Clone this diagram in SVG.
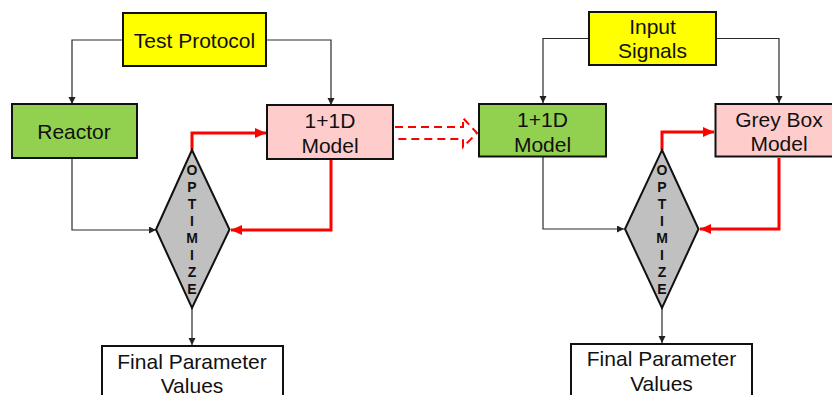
<svg xmlns="http://www.w3.org/2000/svg" width="832" height="395" viewBox="0 0 832 395">
  <style>
    .box { stroke: #111; stroke-width: 2; }
    .yellow { fill: #ffff00; }
    .green { fill: #92d050; }
    .pink { fill: #ffcccc; }
    .white { fill: #ffffff; }
    .diamond { fill: #c0c0c0; stroke: #111; stroke-width: 2; }
    .lbl { font-family: "Liberation Sans", Arial, sans-serif; font-size: 21px; fill: #111; text-anchor: middle; }
    .opt { font-family: "Liberation Sans", Arial, sans-serif; font-size: 14px; font-weight: bold; fill: #111; text-anchor: middle; }
    .thin { fill: none; stroke: #2a2a2a; stroke-width: 1.2; }
    .red { fill: none; stroke: #ff0000; stroke-width: 3; }
    .dash { fill: none; stroke: #ff0000; stroke-width: 2; stroke-dasharray: 8 5; }
  </style>
  <defs>
    <marker id="arrBlack" markerUnits="userSpaceOnUse" markerWidth="8" markerHeight="8" refX="7" refY="3.5" orient="auto">
      <path d="M0,0 L7,3.5 L0,7 z" fill="#222"/>
    </marker>
    <marker id="arrRed" markerUnits="userSpaceOnUse" markerWidth="12" markerHeight="12" refX="11" refY="5" orient="auto">
      <path d="M0,0 L11,5 L0,10 z" fill="#ff0000"/>
    </marker>
  </defs>

  <!-- connectors -->
  <g id="connectors">
    <!-- left workflow -->
    <path class="thin" d="M122,40 H72 V104" marker-end="url(#arrBlack)"/>
    <path class="thin" d="M266,40 H331 V105" marker-end="url(#arrBlack)"/>
    <path class="thin" d="M72,158 V230 H156" marker-end="url(#arrBlack)"/>
    <path class="red" d="M192,150 V133 H266" marker-end="url(#arrRed)"/>
    <path class="red" d="M331,160 V230 H231" marker-end="url(#arrRed)"/>
    <path class="thin" d="M192,308 V345" marker-end="url(#arrBlack)"/>
    <!-- transfer arrow between workflows -->
    <path class="dash" d="M395,127 H463 V118 L477,133 L463,147 V139 H395"/>
    <!-- right workflow -->
    <path class="thin" d="M589,38.5 H543 V103" marker-end="url(#arrBlack)"/>
    <path class="thin" d="M716,38.5 H779 V103" marker-end="url(#arrBlack)"/>
    <path class="thin" d="M543,157 V229 H624" marker-end="url(#arrBlack)"/>
    <path class="red" d="M662,150 V132 H714" marker-end="url(#arrRed)"/>
    <path class="red" d="M779,158 V229 H700" marker-end="url(#arrRed)"/>
    <path class="thin" d="M662,308 V343" marker-end="url(#arrBlack)"/>
  </g>

  <!-- left workflow nodes -->
  <g id="test-protocol">
    <rect class="box yellow" x="123" y="13" width="143" height="53"/>
    <text class="lbl" x="194.5" y="48">Test Protocol</text>
  </g>
  <g id="reactor">
    <rect class="box green" x="12" y="104" width="125" height="54"/>
    <text class="lbl" x="74" y="139">Reactor</text>
  </g>
  <g id="model-1d-left">
    <rect class="box pink" x="267" y="105" width="126" height="54"/>
    <text class="lbl" x="330" y="128">1+1D</text>
    <text class="lbl" x="330" y="152.5">Model</text>
  </g>
  <g id="optimize-left">
    <polygon class="diamond" points="192,150 229.5,229.5 192,308 156,229.5"/>
    <text class="opt" x="192" y="175">O</text>
    <text class="opt" x="192" y="192">P</text>
    <text class="opt" x="192" y="209">T</text>
    <text class="opt" x="192" y="226">I</text>
    <text class="opt" x="192" y="243">M</text>
    <text class="opt" x="192" y="260">I</text>
    <text class="opt" x="192" y="277">Z</text>
    <text class="opt" x="192" y="294">E</text>
  </g>
  <g id="final-left">
    <rect class="box white" x="102" y="346" width="181" height="60"/>
    <text class="lbl" x="192" y="369">Final Parameter</text>
    <text class="lbl" x="192" y="392.5">Values</text>
  </g>

  <!-- right workflow nodes -->
  <g id="input-signals">
    <rect class="box yellow" x="589" y="12" width="127" height="53"/>
    <text class="lbl" x="652.5" y="33.5">Input</text>
    <text class="lbl" x="652.5" y="58">Signals</text>
  </g>
  <g id="model-1d-right">
    <rect class="box green" x="479" y="104" width="127" height="52.5"/>
    <text class="lbl" x="542.5" y="126.5">1+1D</text>
    <text class="lbl" x="542.5" y="151.5">Model</text>
  </g>
  <g id="grey-box-model">
    <rect class="box pink" x="715.5" y="104" width="127" height="52.5"/>
    <text class="lbl" x="779" y="126.5">Grey Box</text>
    <text class="lbl" x="779" y="151">Model</text>
  </g>
  <g id="optimize-right">
    <polygon class="diamond" points="662,150 698.5,229 662,308 625,229"/>
    <text class="opt" x="662" y="175">O</text>
    <text class="opt" x="662" y="192">P</text>
    <text class="opt" x="662" y="209">T</text>
    <text class="opt" x="662" y="226">I</text>
    <text class="opt" x="662" y="243">M</text>
    <text class="opt" x="662" y="260">I</text>
    <text class="opt" x="662" y="277">Z</text>
    <text class="opt" x="662" y="294">E</text>
  </g>
  <g id="final-right">
    <rect class="box white" x="571" y="344" width="181" height="60"/>
    <text class="lbl" x="661.5" y="366">Final Parameter</text>
    <text class="lbl" x="661.5" y="390.5">Values</text>
  </g>
</svg>
